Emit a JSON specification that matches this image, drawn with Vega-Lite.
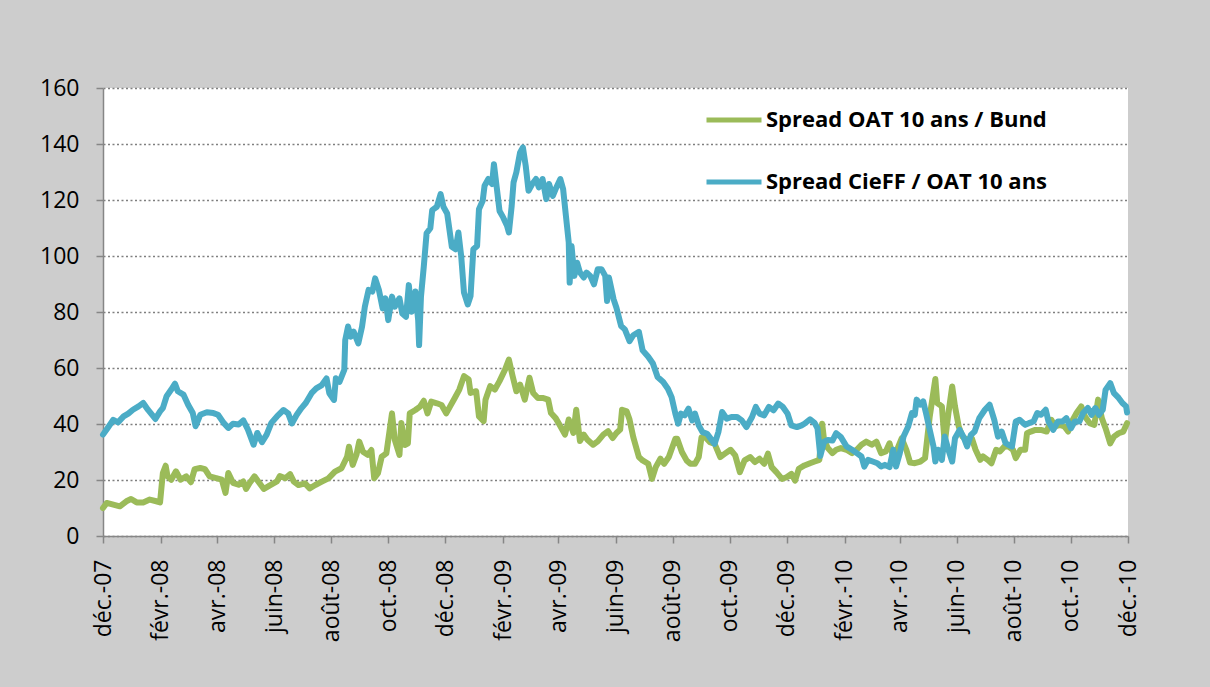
{
"$schema": "https://vega.github.io/schema/vega-lite/v6.json",
"width": 1025,
"height": 448,
"autosize": {"type": "none"},
"padding": {"left": 103, "top": 88, "right": 82, "bottom": 151},
"background": "#cdcdcd",
"config": {"view": {"fill": "white", "stroke": null}, "font": "Open Sans"},
"datasets": {
"oat": [
{"date":"2007-12-01","spread":10.0},{"date":"2007-12-05","spread":11.8},{"date":"2007-12-12","spread":11.2},{"date":"2007-12-19","spread":10.6},{"date":"2007-12-26","spread":12.4},{"date":"2007-12-31","spread":13.2},
{"date":"2008-01-06","spread":12.0},{"date":"2008-01-13","spread":12.0},{"date":"2008-01-20","spread":13.0},{"date":"2008-01-27","spread":12.4},{"date":"2008-01-31","spread":12.0},
{"date":"2008-02-03","spread":22.5},{"date":"2008-02-06","spread":25.1},{"date":"2008-02-08","spread":21.3},{"date":"2008-02-12","spread":20.1},{"date":"2008-02-17","spread":23.1},{"date":"2008-02-22","spread":20.1},{"date":"2008-02-28","spread":21.3},
{"date":"2008-03-04","spread":19.2},{"date":"2008-03-08","spread":23.9},{"date":"2008-03-14","spread":24.3},{"date":"2008-03-19","spread":23.9},{"date":"2008-03-24","spread":21.3},{"date":"2008-03-31","spread":20.7},
{"date":"2008-04-06","spread":20.1},{"date":"2008-04-10","spread":15.4},{"date":"2008-04-13","spread":22.5},{"date":"2008-04-18","spread":19.0},{"date":"2008-04-24","spread":18.3},{"date":"2008-04-29","spread":19.5},
{"date":"2008-05-02","spread":16.8},{"date":"2008-05-06","spread":19.0},{"date":"2008-05-11","spread":21.3},{"date":"2008-05-16","spread":19.0},{"date":"2008-05-21","spread":16.8},{"date":"2008-05-27","spread":18.0},
{"date":"2008-06-04","spread":19.5},{"date":"2008-06-07","spread":21.4},{"date":"2008-06-13","spread":20.6},{"date":"2008-06-18","spread":22.1},{"date":"2008-06-22","spread":19.4},{"date":"2008-06-27","spread":18.2},
{"date":"2008-07-04","spread":18.8},{"date":"2008-07-09","spread":17.0},{"date":"2008-07-15","spread":18.2},{"date":"2008-07-22","spread":19.4},{"date":"2008-07-29","spread":20.6},
{"date":"2008-08-05","spread":23.0},{"date":"2008-08-12","spread":24.2},{"date":"2008-08-18","spread":28.3},{"date":"2008-08-20","spread":31.9},{"date":"2008-08-24","spread":25.4},{"date":"2008-08-28","spread":29.0},{"date":"2008-08-31","spread":33.7},
{"date":"2008-09-04","spread":30.1},{"date":"2008-09-09","spread":29.0},{"date":"2008-09-13","spread":30.7},{"date":"2008-09-16","spread":20.6},{"date":"2008-09-20","spread":22.4},{"date":"2008-09-24","spread":28.3},{"date":"2008-09-29","spread":29.5},
{"date":"2008-10-03","spread":39.0},{"date":"2008-10-05","spread":43.8},{"date":"2008-10-08","spread":34.3},{"date":"2008-10-13","spread":29.0},{"date":"2008-10-15","spread":40.4},{"date":"2008-10-19","spread":32.5},{"date":"2008-10-22","spread":33.1},{"date":"2008-10-24","spread":43.8},{"date":"2008-10-30","spread":45.0},
{"date":"2008-11-04","spread":46.2},{"date":"2008-11-08","spread":48.3},{"date":"2008-11-12","spread":43.8},{"date":"2008-11-16","spread":48.0},{"date":"2008-11-22","spread":47.4},{"date":"2008-11-27","spread":46.8},
{"date":"2008-12-02","spread":43.8},{"date":"2008-12-06","spread":46.2},{"date":"2008-12-11","spread":49.2},{"date":"2008-12-16","spread":52.3},{"date":"2008-12-21","spread":57.1},{"date":"2008-12-26","spread":55.9},{"date":"2008-12-28","spread":51.1},
{"date":"2009-01-03","spread":51.7},{"date":"2009-01-06","spread":42.7},{"date":"2009-01-11","spread":41.0},{"date":"2009-01-13","spread":48.7},{"date":"2009-01-18","spread":53.5},{"date":"2009-01-23","spread":52.3},{"date":"2009-01-28","spread":55.3},
{"date":"2009-02-03","spread":59.5},{"date":"2009-02-07","spread":63.0},{"date":"2009-02-11","spread":57.1},{"date":"2009-02-15","spread":51.7},{"date":"2009-02-19","spread":54.1},{"date":"2009-02-24","spread":48.7},
{"date":"2009-03-01","spread":56.5},{"date":"2009-03-05","spread":51.1},{"date":"2009-03-10","spread":49.3},{"date":"2009-03-15","spread":49.3},{"date":"2009-03-21","spread":48.7},{"date":"2009-03-24","spread":43.9},{"date":"2009-03-29","spread":42.1},
{"date":"2009-04-02","spread":39.8},{"date":"2009-04-08","spread":36.2},{"date":"2009-04-12","spread":41.6},{"date":"2009-04-17","spread":36.8},{"date":"2009-04-20","spread":45.1},{"date":"2009-04-24","spread":33.9},{"date":"2009-04-28","spread":36.2},
{"date":"2009-05-02","spread":34.4},{"date":"2009-05-08","spread":32.6},{"date":"2009-05-13","spread":33.8},{"date":"2009-05-19","spread":36.2},{"date":"2009-05-24","spread":37.4},{"date":"2009-05-29","spread":35.0},
{"date":"2009-06-02","spread":36.8},{"date":"2009-06-06","spread":38.0},{"date":"2009-06-08","spread":45.1},{"date":"2009-06-13","spread":44.5},{"date":"2009-06-16","spread":41.6},{"date":"2009-06-20","spread":35.3},{"date":"2009-06-26","spread":28.2},{"date":"2009-06-30","spread":27.0},
{"date":"2009-07-06","spread":25.8},{"date":"2009-07-10","spread":20.4},{"date":"2009-07-14","spread":24.6},{"date":"2009-07-19","spread":27.6},{"date":"2009-07-23","spread":25.8},{"date":"2009-07-28","spread":28.2},
{"date":"2009-08-04","spread":34.7},{"date":"2009-08-06","spread":34.7},{"date":"2009-08-11","spread":30.0},{"date":"2009-08-16","spread":27.0},{"date":"2009-08-20","spread":25.8},{"date":"2009-08-25","spread":25.8},{"date":"2009-08-29","spread":28.2},
{"date":"2009-09-01","spread":35.3},{"date":"2009-09-05","spread":35.3},{"date":"2009-09-10","spread":33.5},{"date":"2009-09-15","spread":32.9},{"date":"2009-09-21","spread":28.2},{"date":"2009-09-26","spread":29.4},
{"date":"2009-10-02","spread":30.8},{"date":"2009-10-07","spread":28.8},{"date":"2009-10-12","spread":22.8},{"date":"2009-10-17","spread":27.0},{"date":"2009-10-23","spread":28.2},{"date":"2009-10-28","spread":26.4},
{"date":"2009-11-02","spread":27.6},{"date":"2009-11-07","spread":25.8},{"date":"2009-11-11","spread":29.4},{"date":"2009-11-15","spread":24.6},{"date":"2009-11-20","spread":22.8},{"date":"2009-11-26","spread":20.4},
{"date":"2009-12-01","spread":21.0},{"date":"2009-12-06","spread":22.2},{"date":"2009-12-10","spread":19.8},{"date":"2009-12-14","spread":24.0},{"date":"2009-12-20","spread":25.2},{"date":"2009-12-26","spread":26.0},{"date":"2009-12-31","spread":26.6},
{"date":"2010-01-05","spread":27.2},{"date":"2010-01-08","spread":40.1},{"date":"2010-01-10","spread":34.3},{"date":"2010-01-14","spread":31.4},{"date":"2010-01-19","spread":29.6},{"date":"2010-01-23","spread":30.8},{"date":"2010-01-28","spread":31.4},
{"date":"2010-02-03","spread":30.8},{"date":"2010-02-09","spread":29.6},{"date":"2010-02-14","spread":30.8},{"date":"2010-02-19","spread":32.6},{"date":"2010-02-24","spread":33.7},
{"date":"2010-03-02","spread":32.6},{"date":"2010-03-07","spread":33.7},{"date":"2010-03-12","spread":29.6},{"date":"2010-03-17","spread":30.2},{"date":"2010-03-21","spread":33.1},{"date":"2010-03-25","spread":28.4},{"date":"2010-03-29","spread":30.8},
{"date":"2010-04-03","spread":34.9},{"date":"2010-04-08","spread":30.8},{"date":"2010-04-12","spread":26.2},{"date":"2010-04-17","spread":26.0},{"date":"2010-04-23","spread":26.6},{"date":"2010-04-28","spread":27.8},
{"date":"2010-05-03","spread":42.7},{"date":"2010-05-09","spread":56.1},{"date":"2010-05-11","spread":47.5},{"date":"2010-05-16","spread":46.3},{"date":"2010-05-19","spread":33.1},{"date":"2010-05-23","spread":43.9},{"date":"2010-05-27","spread":53.4},{"date":"2010-05-30","spread":46.3},
{"date":"2010-06-03","spread":39.1},{"date":"2010-06-07","spread":35.5},{"date":"2010-06-12","spread":34.3},{"date":"2010-06-17","spread":34.9},{"date":"2010-06-21","spread":30.8},{"date":"2010-06-26","spread":27.2},{"date":"2010-06-29","spread":28.4},
{"date":"2010-07-04","spread":27.2},{"date":"2010-07-08","spread":26.0},{"date":"2010-07-13","spread":30.8},{"date":"2010-07-17","spread":30.2},{"date":"2010-07-22","spread":32.0},{"date":"2010-07-26","spread":32.0},{"date":"2010-07-31","spread":30.8},
{"date":"2010-08-03","spread":27.8},{"date":"2010-08-08","spread":30.8},{"date":"2010-08-13","spread":30.8},{"date":"2010-08-15","spread":36.7},{"date":"2010-08-19","spread":37.3},{"date":"2010-08-24","spread":37.9},{"date":"2010-08-30","spread":37.9},
{"date":"2010-09-05","spread":37.3},{"date":"2010-09-10","spread":41.5},{"date":"2010-09-14","spread":39.1},{"date":"2010-09-19","spread":39.7},{"date":"2010-09-24","spread":39.1},{"date":"2010-09-28","spread":37.3},
{"date":"2010-10-02","spread":40.9},{"date":"2010-10-07","spread":43.9},{"date":"2010-10-12","spread":46.3},{"date":"2010-10-16","spread":42.7},{"date":"2010-10-21","spread":40.3},{"date":"2010-10-26","spread":39.7},{"date":"2010-10-30","spread":48.7},
{"date":"2010-11-03","spread":42.1},{"date":"2010-11-07","spread":38.5},{"date":"2010-11-12","spread":33.1},{"date":"2010-11-16","spread":35.5},{"date":"2010-11-21","spread":36.7},{"date":"2010-11-26","spread":37.3},{"date":"2010-11-30","spread":40.3}
],
"cieff": [
{"date":"2007-12-01","spread":36.2},{"date":"2007-12-06","spread":38.6},{"date":"2007-12-12","spread":41.5},{"date":"2007-12-17","spread":40.6},{"date":"2007-12-23","spread":42.7},{"date":"2007-12-28","spread":43.7},
{"date":"2008-01-02","spread":45.1},{"date":"2008-01-08","spread":46.3},{"date":"2008-01-13","spread":47.5},{"date":"2008-01-18","spread":45.1},{"date":"2008-01-26","spread":41.8},{"date":"2008-01-31","spread":44.5},
{"date":"2008-02-03","spread":45.7},{"date":"2008-02-07","spread":49.9},{"date":"2008-02-12","spread":52.3},{"date":"2008-02-16","spread":54.4},{"date":"2008-02-19","spread":51.7},{"date":"2008-02-25","spread":50.5},
{"date":"2008-03-01","spread":46.9},{"date":"2008-03-06","spread":43.9},{"date":"2008-03-09","spread":39.2},{"date":"2008-03-14","spread":43.3},{"date":"2008-03-21","spread":44.2},{"date":"2008-03-28","spread":43.9},
{"date":"2008-04-02","spread":43.3},{"date":"2008-04-08","spread":40.4},{"date":"2008-04-13","spread":38.6},{"date":"2008-04-18","spread":40.1},{"date":"2008-04-24","spread":39.8},{"date":"2008-04-29","spread":41.3},
{"date":"2008-05-04","spread":38.0},{"date":"2008-05-10","spread":32.6},{"date":"2008-05-14","spread":36.8},{"date":"2008-05-19","spread":33.5},{"date":"2008-05-24","spread":36.2},{"date":"2008-05-29","spread":40.4},
{"date":"2008-06-04","spread":42.7},{"date":"2008-06-11","spread":45.0},{"date":"2008-06-16","spread":43.8},{"date":"2008-06-20","spread":40.2},{"date":"2008-06-25","spread":43.2},{"date":"2008-06-30","spread":45.6},
{"date":"2008-07-05","spread":47.6},{"date":"2008-07-11","spread":51.0},{"date":"2008-07-16","spread":52.7},{"date":"2008-07-22","spread":53.9},{"date":"2008-07-27","spread":56.3},{"date":"2008-07-30","spread":51.0},
{"date":"2008-08-04","spread":48.6},{"date":"2008-08-06","spread":56.3},{"date":"2008-08-10","spread":55.1},{"date":"2008-08-15","spread":59.3},{"date":"2008-08-16","spread":70.0},{"date":"2008-08-19","spread":74.8},{"date":"2008-08-22","spread":71.2},{"date":"2008-08-25","spread":73.0},{"date":"2008-08-30","spread":68.8},
{"date":"2008-09-03","spread":74.8},{"date":"2008-09-06","spread":81.9},{"date":"2008-09-10","spread":87.9},{"date":"2008-09-14","spread":87.3},{"date":"2008-09-17","spread":92.0},{"date":"2008-09-21","spread":87.9},{"date":"2008-09-25","spread":81.3},{"date":"2008-09-28","spread":84.9},
{"date":"2008-10-01","spread":77.1},{"date":"2008-10-05","spread":85.5},{"date":"2008-10-08","spread":81.9},{"date":"2008-10-13","spread":84.9},{"date":"2008-10-16","spread":79.5},{"date":"2008-10-20","spread":78.3},{"date":"2008-10-23","spread":89.6},{"date":"2008-10-26","spread":80.1},{"date":"2008-10-30","spread":87.3},
{"date":"2008-11-02","spread":77.1},{"date":"2008-11-03","spread":68.2},{"date":"2008-11-05","spread":85.5},{"date":"2008-11-08","spread":96.2},{"date":"2008-11-11","spread":108.1},{"date":"2008-11-15","spread":109.9},{"date":"2008-11-17","spread":116.4},{"date":"2008-11-22","spread":117.6},{"date":"2008-11-26","spread":122.1},{"date":"2008-11-29","spread":117.6},
{"date":"2008-12-03","spread":115.2},{"date":"2008-12-08","spread":103.3},{"date":"2008-12-12","spread":102.4},{"date":"2008-12-15","spread":108.4},{"date":"2008-12-18","spread":100.0},{"date":"2008-12-21","spread":86.9},{"date":"2008-12-25","spread":82.7},{"date":"2008-12-28","spread":85.7},{"date":"2008-12-31","spread":102.4},
{"date":"2009-01-04","spread":103.6},{"date":"2009-01-06","spread":116.7},{"date":"2009-01-10","spread":119.7},{"date":"2009-01-12","spread":125.1},{"date":"2009-01-16","spread":127.5},{"date":"2009-01-20","spread":125.7},{"date":"2009-01-22","spread":132.8},{"date":"2009-01-25","spread":124.5},{"date":"2009-01-28","spread":116.1},
{"date":"2009-02-01","spread":113.7},{"date":"2009-02-05","spread":110.8},{"date":"2009-02-07","spread":108.4},{"date":"2009-02-10","spread":117.9},{"date":"2009-02-12","spread":126.3},{"date":"2009-02-15","spread":129.9},{"date":"2009-02-19","spread":137.0},{"date":"2009-02-22","spread":138.8},{"date":"2009-02-25","spread":132.2},{"date":"2009-02-28","spread":123.3},
{"date":"2009-03-04","spread":125.7},{"date":"2009-03-08","spread":127.5},{"date":"2009-03-11","spread":124.5},{"date":"2009-03-15","spread":127.5},{"date":"2009-03-19","spread":120.3},{"date":"2009-03-22","spread":125.7},{"date":"2009-03-26","spread":121.5},{"date":"2009-03-29","spread":123.9},
{"date":"2009-04-03","spread":127.5},{"date":"2009-04-06","spread":123.9},{"date":"2009-04-09","spread":114.3},{"date":"2009-04-12","spread":104.8},{"date":"2009-04-13","spread":90.5},{"date":"2009-04-15","spread":103.6},{"date":"2009-04-18","spread":92.9},{"date":"2009-04-21","spread":97.6},{"date":"2009-04-24","spread":94.1},{"date":"2009-04-28","spread":92.3},
{"date":"2009-05-01","spread":94.1},{"date":"2009-05-05","spread":92.9},{"date":"2009-05-09","spread":89.9},{"date":"2009-05-13","spread":95.3},{"date":"2009-05-17","spread":95.3},{"date":"2009-05-21","spread":92.9},{"date":"2009-05-23","spread":83.9},{"date":"2009-05-25","spread":92.3},{"date":"2009-05-30","spread":84.5},
{"date":"2009-06-02","spread":81.5},{"date":"2009-06-07","spread":75.0},{"date":"2009-06-11","spread":73.8},{"date":"2009-06-16","spread":69.6},{"date":"2009-06-20","spread":71.7},{"date":"2009-06-26","spread":72.9},{"date":"2009-06-30","spread":66.3},
{"date":"2009-07-06","spread":64.0},{"date":"2009-07-11","spread":61.6},{"date":"2009-07-16","spread":56.8},{"date":"2009-07-22","spread":55.0},{"date":"2009-07-27","spread":52.6},{"date":"2009-07-31","spread":49.6},
{"date":"2009-08-04","spread":43.7},{"date":"2009-08-07","spread":40.1},{"date":"2009-08-10","spread":43.7},{"date":"2009-08-14","spread":43.1},{"date":"2009-08-18","spread":45.5},{"date":"2009-08-22","spread":41.3},{"date":"2009-08-25","spread":43.7},{"date":"2009-08-29","spread":39.5},
{"date":"2009-09-02","spread":37.1},{"date":"2009-09-07","spread":36.5},{"date":"2009-09-11","spread":34.7},{"date":"2009-09-15","spread":32.9},{"date":"2009-09-19","spread":37.1},{"date":"2009-09-23","spread":44.3},{"date":"2009-09-28","spread":41.9},
{"date":"2009-10-03","spread":42.5},{"date":"2009-10-09","spread":42.5},{"date":"2009-10-14","spread":41.3},{"date":"2009-10-19","spread":38.9},{"date":"2009-10-25","spread":42.5},{"date":"2009-10-29","spread":46.1},
{"date":"2009-11-02","spread":43.7},{"date":"2009-11-07","spread":43.1},{"date":"2009-11-12","spread":46.1},{"date":"2009-11-17","spread":44.9},{"date":"2009-11-22","spread":47.3},{"date":"2009-11-27","spread":46.1},
{"date":"2009-12-02","spread":43.7},{"date":"2009-12-06","spread":39.5},{"date":"2009-12-12","spread":38.9},{"date":"2009-12-17","spread":39.5},{"date":"2009-12-20","spread":40.1},{"date":"2009-12-26","spread":41.7},{"date":"2009-12-31","spread":40.3},
{"date":"2010-01-03","spread":38.5},{"date":"2010-01-06","spread":28.6},{"date":"2010-01-10","spread":33.7},{"date":"2010-01-14","spread":34.3},{"date":"2010-01-19","spread":34.1},{"date":"2010-01-23","spread":36.7},{"date":"2010-01-28","spread":35.3},
{"date":"2010-02-03","spread":32.0},{"date":"2010-02-09","spread":30.8},{"date":"2010-02-14","spread":29.6},{"date":"2010-02-19","spread":28.4},{"date":"2010-02-22","spread":24.8},{"date":"2010-02-26","spread":27.2},
{"date":"2010-03-03","spread":26.6},{"date":"2010-03-08","spread":26.0},{"date":"2010-03-12","spread":24.8},{"date":"2010-03-16","spread":25.4},{"date":"2010-03-21","spread":24.6},{"date":"2010-03-25","spread":30.8},{"date":"2010-03-28","spread":24.8},
{"date":"2010-04-01","spread":29.6},{"date":"2010-04-05","spread":35.5},{"date":"2010-04-10","spread":39.1},{"date":"2010-04-14","spread":43.9},{"date":"2010-04-17","spread":43.3},{"date":"2010-04-19","spread":48.7},{"date":"2010-04-23","spread":46.9},{"date":"2010-04-26","spread":48.1},{"date":"2010-04-29","spread":43.9},
{"date":"2010-05-03","spread":37.9},{"date":"2010-05-07","spread":32.0},{"date":"2010-05-09","spread":26.6},{"date":"2010-05-12","spread":30.8},{"date":"2010-05-16","spread":27.2},{"date":"2010-05-19","spread":35.5},{"date":"2010-05-23","spread":30.8},{"date":"2010-05-27","spread":26.6},{"date":"2010-05-30","spread":34.9},
{"date":"2010-06-04","spread":37.9},{"date":"2010-06-08","spread":35.5},{"date":"2010-06-12","spread":32.0},{"date":"2010-06-16","spread":36.1},{"date":"2010-06-20","spread":37.3},{"date":"2010-06-25","spread":42.1},
{"date":"2010-07-01","spread":45.1},{"date":"2010-07-06","spread":46.9},{"date":"2010-07-11","spread":41.5},{"date":"2010-07-15","spread":35.5},{"date":"2010-07-19","spread":37.3},{"date":"2010-07-23","spread":33.2},{"date":"2010-07-26","spread":32.6},{"date":"2010-07-30","spread":32.0},
{"date":"2010-08-03","spread":40.9},{"date":"2010-08-07","spread":41.5},{"date":"2010-08-13","spread":39.7},{"date":"2010-08-17","spread":40.3},{"date":"2010-08-22","spread":40.9},{"date":"2010-08-26","spread":43.9},{"date":"2010-08-30","spread":43.3},
{"date":"2010-09-04","spread":45.1},{"date":"2010-09-07","spread":40.9},{"date":"2010-09-12","spread":37.9},{"date":"2010-09-17","spread":40.9},{"date":"2010-09-22","spread":40.9},{"date":"2010-09-26","spread":42.1},
{"date":"2010-10-01","spread":38.5},{"date":"2010-10-05","spread":40.9},{"date":"2010-10-10","spread":40.9},{"date":"2010-10-14","spread":43.9},{"date":"2010-10-19","spread":45.7},{"date":"2010-10-23","spread":43.3},{"date":"2010-10-27","spread":45.7},{"date":"2010-10-31","spread":43.3},
{"date":"2010-11-04","spread":45.1},{"date":"2010-11-07","spread":52.2},{"date":"2010-11-12","spread":54.6},{"date":"2010-11-16","spread":51.0},{"date":"2010-11-21","spread":49.3},{"date":"2010-11-25","spread":47.5},{"date":"2010-11-29","spread":46.3},{"date":"2010-11-30","spread":44.1}
]
},
"encoding": {
"x": {"field": "date", "type": "temporal",
  "scale": {"type": "utc", "domain": [{"year": 2007, "month": "dec", "date": 1, "utc": true}, {"year": 2010, "month": "dec", "date": 1, "utc": true}]},
  "axis": {"title": null, "grid": false,
    "values": [
      {"year": 2007, "month": "dec", "date": 1, "utc": true},
      {"year": 2008, "month": "feb", "date": 1, "utc": true},
      {"year": 2008, "month": "apr", "date": 1, "utc": true},
      {"year": 2008, "month": "jun", "date": 1, "utc": true},
      {"year": 2008, "month": "aug", "date": 1, "utc": true},
      {"year": 2008, "month": "oct", "date": 1, "utc": true},
      {"year": 2008, "month": "dec", "date": 1, "utc": true},
      {"year": 2009, "month": "feb", "date": 1, "utc": true},
      {"year": 2009, "month": "apr", "date": 1, "utc": true},
      {"year": 2009, "month": "jun", "date": 1, "utc": true},
      {"year": 2009, "month": "aug", "date": 1, "utc": true},
      {"year": 2009, "month": "oct", "date": 1, "utc": true},
      {"year": 2009, "month": "dec", "date": 1, "utc": true},
      {"year": 2010, "month": "feb", "date": 1, "utc": true},
      {"year": 2010, "month": "apr", "date": 1, "utc": true},
      {"year": 2010, "month": "jun", "date": 1, "utc": true},
      {"year": 2010, "month": "aug", "date": 1, "utc": true},
      {"year": 2010, "month": "oct", "date": 1, "utc": true},
      {"year": 2010, "month": "dec", "date": 1, "utc": true}
    ],
    "labelExpr": "['janv.','févr.','mars','avr.','mai','juin','juil.','août','sept.','oct.','nov.','déc.'][utcmonth(datum.value)] + '-' + utcFormat(datum.value, '%y')",
    "labelAngle": -90, "labelFont": "Open Sans", "labelFontSize": 23, "labelColor": "#000000",
    "labelPadding": 16, "labelOverlap": false, "labelFlush": false, "labelBound": false,
    "tickSize": 7, "tickColor": "#868686", "tickWidth": 1.5,
    "domainColor": "#868686", "domainWidth": 1.5}},
"y": {"field": "spread", "type": "quantitative",
  "scale": {"domain": [0, 160], "nice": false},
  "axis": {"title": null, "values": [0, 20, 40, 60, 80, 100, 120, 140, 160],
    "labelFont": "Open Sans", "labelFontSize": 23, "labelColor": "#000000", "labelPadding": 17,
    "tickSize": 7, "tickColor": "#868686", "tickWidth": 1.5,
    "domainColor": "#868686", "domainWidth": 1.5,
    "grid": true, "gridColor": "#7f7f7f", "gridDash": [2, 2.5], "gridWidth": 1.5}}
},
"layer": [
{"data": {"name": "oat"},
 "mark": {"type": "line", "strokeWidth": 6, "strokeJoin": "round", "strokeCap": "round"},
 "encoding": {"color": {"datum": "Spread OAT 10 ans / Bund", "type": "nominal",
   "scale": {"domain": ["Spread OAT 10 ans / Bund", "Spread CieFF / OAT 10 ans"], "range": ["#9bbb59", "#4bacc6"]},
   "legend": {"title": null, "orient": "none", "legendX": 601, "legendY": 2, "direction": "vertical",
     "symbolType": "stroke", "symbolSize": 3025, "symbolStrokeWidth": 5,
     "labelFont": "Open Sans", "labelFontSize": 22, "labelFontWeight": "bold", "labelColor": "#000000",
     "labelLimit": 0, "labelOffset": 2, "rowPadding": 21, "padding": 0}}}},
{"data": {"name": "cieff"},
 "mark": {"type": "line", "strokeWidth": 6, "strokeJoin": "round", "strokeCap": "round"},
 "encoding": {"color": {"datum": "Spread CieFF / OAT 10 ans", "type": "nominal"}}}
]
}
